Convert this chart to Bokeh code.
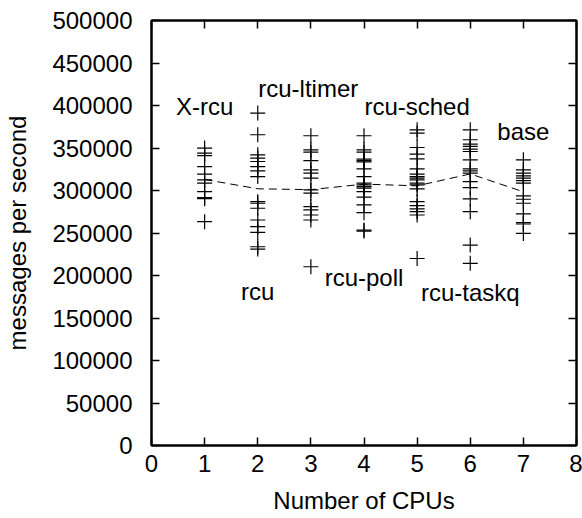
from bokeh.plotting import figure
from bokeh.models import FixedTicker, LinearAxis, Range1d, BasicTickFormatter
from bokeh.core.properties import value
from bokeh.embed import file_html
from bokeh.resources import INLINE

# ---- data ----
cpu_positions = [1, 2, 3, 4, 5, 6, 7]
xrcu = [349900, 344000, 341100, 328200, 319200, 312500, 308600, 298700, 291600, 290400, 263300]
rcu_ltimer_rcu = [391100, 365600, 342000, 338100, 334100, 328200, 323100, 316400, 286900, 285000,
                  279100, 265300, 257400, 250800, 233800, 231100]
rcu_poll = [364400, 347900, 345100, 335200, 324300, 320400, 314500, 300700, 296800, 281000,
            277100, 271200, 265300, 210300]
rcu_4 = [364400, 347900, 345100, 336900, 335200, 333700, 325400, 316400, 308600, 306600, 304600,
         302700, 298700, 292100, 283000, 273900, 253500, 252300]
rcu_sched = [371400, 367500, 350600, 342800, 337300, 325400, 319200, 316400, 314500, 312500,
             308600, 306600, 301900, 286900, 282200, 278300, 275100, 271200, 220000]
rcu_taskq = [371400, 359700, 354600, 351800, 348700, 345900, 336100, 325400, 323100, 320400,
             310500, 303400, 290100, 275100, 235800, 214300]
base = [336100, 324300, 320400, 317200, 314500, 311700, 308600, 293600, 289700, 285000, 272400,
        262100, 260600, 249500]
series = [xrcu, rcu_ltimer_rcu, rcu_poll, rcu_4, rcu_sched, rcu_taskq, base]
means = [313000, 302000, 301000, 307500, 305500, 319500, 298500]

label_texts = ["X-rcu", "rcu-ltimer", "rcu-sched", "base", "rcu", "rcu-poll", "rcu-taskq"]
label_x = [1.0, 2.95, 5.0, 7.0, 2.0, 4.0, 6.0]
label_y = [398500, 419500, 398500, 369000, 181600, 198100, 180400]

x_ticks = [0, 1, 2, 3, 4, 5, 6, 7, 8]
y_ticks = [0, 50000, 100000, 150000, 200000, 250000, 300000, 350000, 400000, 450000, 500000]

FONT = "Liberation Sans"
FS = "24px"

px, py = [], []
for xv, ys in zip(cpu_positions, series):
    for yv in ys:
        px.append(xv)
        py.append(yv)

p = figure(width=582, height=518, x_range=Range1d(0, 8), y_range=Range1d(0, 500000),
           output_backend="svg", toolbar_location=None, title=None,
           min_border_left=151, min_border_right=6, min_border_top=20, min_border_bottom=73)
p.grid.visible = False
p.background_fill_color = "white"
p.border_fill_color = "white"
p.outline_line_color = "black"
p.outline_line_width = 2

p.scatter(px, py, marker="cross", size=15, line_color="black", line_width=1.2)
p.line(cpu_positions, means, line_color="black", line_width=1, line_dash="8 5")

p.text(label_x, label_y, text=label_texts, text_font=value(FONT), text_font_size=value(FS),
       text_align="center", text_baseline="middle", text_color="black")

for ax in [p.xaxis[0], p.yaxis[0]]:
    ax.major_tick_in = 8
    ax.major_tick_out = 0
    ax.minor_tick_in = 0
    ax.minor_tick_out = 0
    ax.axis_line_width = 2
    ax.major_tick_line_width = 1.5
    ax.major_label_text_font = FONT
    ax.major_label_text_font_size = FS
    ax.major_label_text_color = "black"
    ax.axis_label_text_font = FONT
    ax.axis_label_text_font_size = FS
    ax.axis_label_text_font_style = "normal"
    ax.axis_label_text_color = "black"

p.xaxis[0].ticker = FixedTicker(ticks=x_ticks)
p.yaxis[0].ticker = FixedTicker(ticks=y_ticks)
p.yaxis[0].formatter = BasicTickFormatter(use_scientific=False)
p.xaxis[0].axis_label = "Number of CPUs"
p.yaxis[0].axis_label = "messages per second"
p.xaxis[0].major_label_text_line_height = 1.0
p.xaxis[0].axis_label_text_line_height = 1.0
p.xaxis[0].major_label_standoff = 9
p.yaxis[0].major_label_standoff = 19
p.xaxis[0].axis_label_standoff = 12
p.yaxis[0].axis_label_standoff = 18

# mirrored ticks on top and right
for side, ticks in [("above", x_ticks), ("right", y_ticks)]:
    ax = LinearAxis(ticker=FixedTicker(ticks=ticks))
    ax.major_tick_in = 8
    ax.major_tick_out = 0
    ax.minor_tick_in = 0
    ax.minor_tick_out = 0
    ax.axis_line_width = 2
    ax.major_tick_line_width = 1.5
    ax.major_label_text_font_size = "0px"
    ax.major_label_standoff = 0
    ax.major_label_text_alpha = 0
    p.add_layout(ax, side)

open("out.html", "w").write(file_html(p, INLINE))
